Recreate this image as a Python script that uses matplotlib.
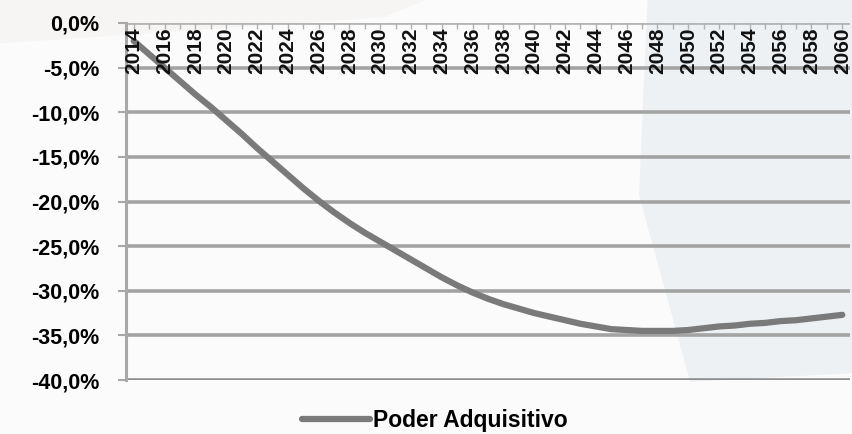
import matplotlib.pyplot as plt
import numpy as np
from matplotlib.patches import Polygon
from matplotlib.ticker import FuncFormatter

# poder adquisitivo (% change vs 2014), one value per year
years = list(range(2014, 2061))
poder = [-2.0, -3.5, -5.0, -6.5, -8.0, -9.4, -10.9, -12.4, -14.0, -15.5,
         -17.0, -18.5, -19.9, -21.2, -22.4, -23.5, -24.5, -25.5, -26.5, -27.5,
         -28.5, -29.4, -30.2, -30.9, -31.5, -32.0, -32.5, -32.9, -33.3, -33.7,
         -34.0, -34.3, -34.4, -34.5, -34.5, -34.5, -34.4, -34.2, -34.0, -33.9,
         -33.7, -33.6, -33.4, -33.3, -33.1, -32.9, -32.7]
year_labels = [str(y) for y in years[::2]]
y_ticks = [0, -5, -10, -15, -20, -25, -30, -35, -40]

plt.rcParams['font.family'] = ['Liberation Sans', 'DejaVu Sans']

fig = plt.figure(figsize=(8.52, 4.34), dpi=100, facecolor='#fcfbfb')

# faint background shapes behind the chart
fig.patches.append(Polygon([[0.76, 1.0], [1.0, 1.0], [1.0, 0.14], [0.81, 0.12], [0.75, 0.55]],
                           closed=True, transform=fig.transFigure,
                           facecolor='#eef1f4', edgecolor='none', zorder=-5))
fig.patches.append(Polygon([[0.0, 1.0], [0.5, 1.0], [0.45, 0.96], [0.0, 0.9]],
                           closed=True, transform=fig.transFigure,
                           facecolor='#f7f5f3', edgecolor='none', zorder=-5))

ax = fig.add_axes([126 / 852, 1 - 380 / 434, (850 - 126) / 852, (380 - 23) / 434])
ax.set_facecolor('none')
ax.set_zorder(2)

ax.set_xlim(2013.5, 2060.5)
ax.set_ylim(-40, 0)

for v in y_ticks[1:-1]:
    ax.axhline(v, color='#a3a3a3', lw=2.6, zorder=1)
ax.axhline(-40, color='#8f8f8f', lw=2.6, zorder=1)
ax.axhline(0, color='#b5b5b5', lw=2.0, zorder=1)

ax.plot(years, poder, color='#7a7a7a', lw=4.5, solid_capstyle='round', zorder=3,
        label='Poder Adquisitivo')

for s in ['top', 'right', 'bottom']:
    ax.spines[s].set_visible(False)
ax.spines['left'].set_color('#a8a8a8')
ax.spines['left'].set_linewidth(2.2)

ax.set_yticks(y_ticks)
ax.yaxis.set_major_formatter(FuncFormatter(lambda v, p: f'{v:.1f}%'.replace('.', ',')))
ax.tick_params(axis='y', length=6, width=1.5, color='#a8a8a8', pad=13,
               labelsize=15.5)
for lbl in ax.get_yticklabels():
    lbl.set_fontweight('bold')

# year ticks along the zero line, labels hanging below it
ax.set_xticks(years)
ax.tick_params(axis='x', bottom=False, labelbottom=False, top=True, labeltop=False,
               direction='in', length=4, width=1, color='#b0b0b0')
for y, lbl in zip(years[::2], year_labels):
    ax.text(y, -0.45, lbl, rotation=90, ha='center', va='top', fontsize=15,
            fontweight='bold', color='#111111', zorder=4)

fig.legend(loc='center', bbox_to_anchor=(0.51, 0.032), frameon=False,
           handlelength=3.0, handletextpad=0.1, borderaxespad=0,
           prop={'weight': 'bold', 'size': 16.5})

fig.savefig('out.png', dpi=100, facecolor=fig.get_facecolor())
